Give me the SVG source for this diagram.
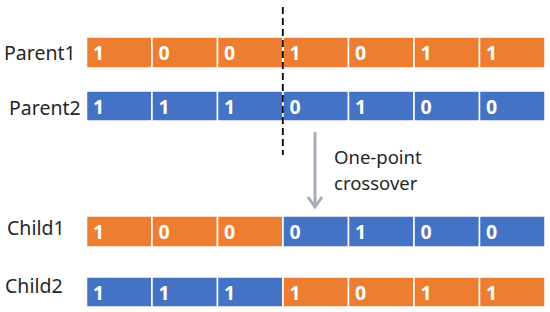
<svg xmlns="http://www.w3.org/2000/svg" width="550" height="312" viewBox="0 0 550 312">
<style>
.o{fill:#ED7D31;stroke:#ffffff;stroke-width:1.5}
.b{fill:#4472C4;stroke:#ffffff;stroke-width:1.5}
.d{font-family:"Noto Sans","Liberation Sans",sans-serif;font-size:19.5px;font-weight:bold;fill:#ffffff}
.l{font-family:"Noto Sans","Liberation Sans",sans-serif;font-size:19.5px;fill:#262626}
.c{font-family:"Noto Sans","Liberation Sans",sans-serif;font-size:18.5px;fill:#262626}
</style>
<rect width="550" height="312" fill="#ffffff"/>
<g id="parent1">
<rect class="o" x="86.5" y="37" width="65.5" height="31"/>
<rect class="o" x="152" y="37" width="65.5" height="31"/>
<rect class="o" x="217.5" y="37" width="65.5" height="31"/>
<rect class="o" x="283" y="37" width="65.5" height="31"/>
<rect class="o" x="348.5" y="37" width="65.5" height="31"/>
<rect class="o" x="414" y="37" width="65.5" height="31"/>
<rect class="o" x="479.5" y="37" width="65.5" height="31"/>
<text class="d" x="93" y="59.5">1</text><text class="d" x="158.5" y="59.5">0</text><text class="d" x="224" y="59.5">0</text><text class="d" x="289.5" y="59.5">1</text><text class="d" x="355" y="59.5">0</text><text class="d" x="420.5" y="59.5">1</text><text class="d" x="486" y="59.5">1</text>
<text class="l" x="4" y="60">Parent1</text>
</g>
<g id="parent2">
<rect class="b" x="86.5" y="91" width="65.5" height="30"/>
<rect class="b" x="152" y="91" width="65.5" height="30"/>
<rect class="b" x="217.5" y="91" width="65.5" height="30"/>
<rect class="b" x="283" y="91" width="65.5" height="30"/>
<rect class="b" x="348.5" y="91" width="65.5" height="30"/>
<rect class="b" x="414" y="91" width="65.5" height="30"/>
<rect class="b" x="479.5" y="91" width="65.5" height="30"/>
<text class="d" x="93" y="113.5">1</text><text class="d" x="158.5" y="113.5">1</text><text class="d" x="224" y="113.5">1</text><text class="d" x="289.5" y="113.5">0</text><text class="d" x="355" y="113.5">1</text><text class="d" x="420.5" y="113.5">0</text><text class="d" x="486" y="113.5">0</text>
<text class="l" x="9" y="115">Parent2</text>
</g>
<g id="child1">
<rect class="o" x="86.5" y="216" width="65.5" height="31"/>
<rect class="o" x="152" y="216" width="65.5" height="31"/>
<rect class="o" x="217.5" y="216" width="65.5" height="31"/>
<rect class="b" x="283" y="216" width="65.5" height="31"/>
<rect class="b" x="348.5" y="216" width="65.5" height="31"/>
<rect class="b" x="414" y="216" width="65.5" height="31"/>
<rect class="b" x="479.5" y="216" width="65.5" height="31"/>
<text class="d" x="93" y="239">1</text><text class="d" x="158.5" y="239">0</text><text class="d" x="224" y="239">0</text><text class="d" x="289.5" y="239">0</text><text class="d" x="355" y="239">1</text><text class="d" x="420.5" y="239">0</text><text class="d" x="486" y="239">0</text>
<text class="l" x="7" y="235">Child1</text>
</g>
<g id="child2">
<rect class="b" x="86.5" y="277" width="65.5" height="30"/>
<rect class="b" x="152" y="277" width="65.5" height="30"/>
<rect class="b" x="217.5" y="277" width="65.5" height="30"/>
<rect class="o" x="283" y="277" width="65.5" height="30"/>
<rect class="o" x="348.5" y="277" width="65.5" height="30"/>
<rect class="o" x="414" y="277" width="65.5" height="30"/>
<rect class="o" x="479.5" y="277" width="65.5" height="30"/>
<text class="d" x="93" y="299.5">1</text><text class="d" x="158.5" y="299.5">1</text><text class="d" x="224" y="299.5">1</text><text class="d" x="289.5" y="299.5">1</text><text class="d" x="355" y="299.5">0</text><text class="d" x="420.5" y="299.5">1</text><text class="d" x="486" y="299.5">1</text>
<text class="l" x="5" y="292.5">Child2</text>
</g>
<g id="connectors">
<line x1="282.8" y1="7" x2="282.8" y2="155" stroke="#000000" stroke-width="1.8" stroke-dasharray="7,4"/>
<line x1="315" y1="132" x2="315" y2="207" stroke="#A5ACB8" stroke-width="3"/>
<polyline points="308,197 315,207 322,197" fill="none" stroke="#A5ACB8" stroke-width="3" stroke-linejoin="miter"/>
</g>
<g id="label">
<text class="c" x="334" y="164">One-point</text>
<text class="c" x="334" y="190">crossover</text>
</g>
</svg>
